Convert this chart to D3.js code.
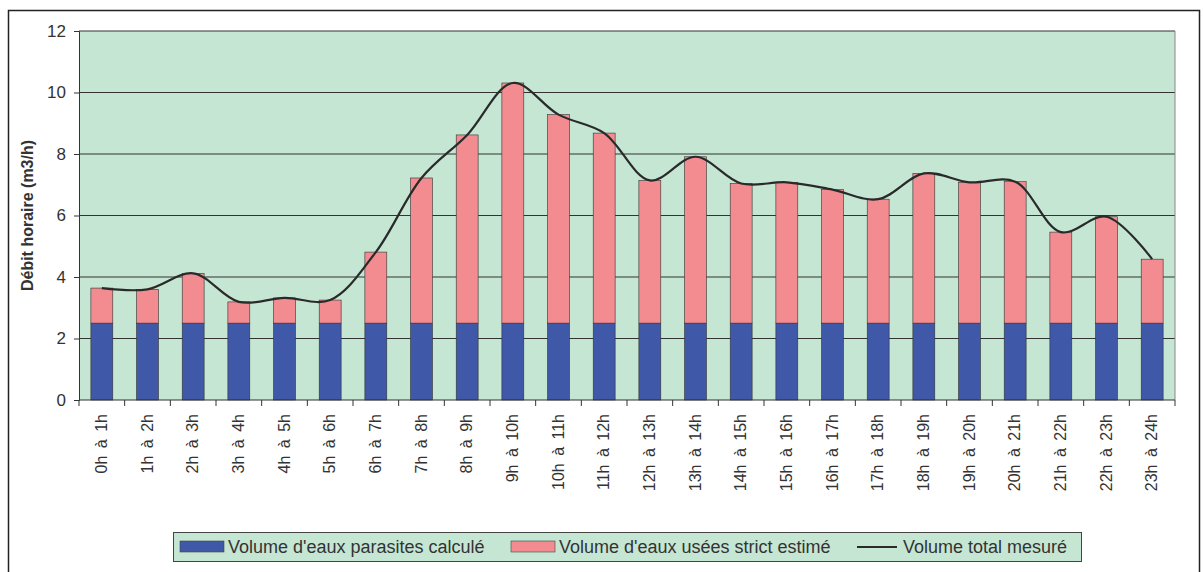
<!DOCTYPE html>
<html>
<head>
<meta charset="utf-8">
<script src="https://cdn.jsdelivr.net/npm/d3@7"></script>
<style>
  body { margin: 0; background: #fff; }
  text { font-family: "Liberation Sans", Arial, sans-serif; fill: #333; }
</style>
</head>
<body>
<script>
// hour slots
var hours = ["0h à 1h","1h à 2h","2h à 3h","3h à 4h","4h à 5h","5h à 6h","6h à 7h","7h à 8h",
  "8h à 9h","9h à 10h","10h à 11h","11h à 12h","12h à 13h","13h à 14h","14h à 15h","15h à 16h",
  "16h à 17h","17h à 18h","18h à 19h","19h à 20h","20h à 21h","21h à 22h","22h à 23h","23h à 24h"];
// parasitic water volume (blue)
var parasites = [2.5,2.5,2.5,2.5,2.5,2.5,2.5,2.5,2.5,2.5,2.5,2.5,2.5,2.5,2.5,2.5,2.5,2.5,2.5,2.5,2.5,2.5,2.5,2.5];
// wastewater volume on top (pink)
var usees = [1.14,1.1,1.62,0.69,0.82,0.75,2.31,4.72,6.12,7.81,6.78,6.18,4.64,5.41,4.54,4.58,4.34,4.03,4.87,4.58,4.6,2.96,3.46,2.08];
// measured total (line)
var total = [3.64,3.6,4.12,3.19,3.32,3.25,4.81,7.22,8.62,10.31,9.28,8.68,7.14,7.91,7.04,7.08,6.84,6.53,7.37,7.08,7.1,5.46,5.96,4.58];
var yTicks = [0,2,4,6,8,10,12];

var W = 1203, H = 572;
var pLeft = 79, pRight = 1175, pTop = 31, pBottom = 400;

var svg = d3.select("body").append("svg")
  .attr("width", W)
  .attr("height", H);

// outer frame
svg.append("rect")
   .attr("x", 8.5).attr("y", 10.5)
   .attr("width", 1191).attr("height", 580)
   .attr("fill", "#fff")
   .attr("stroke", "#222").attr("stroke-width", 1.5);

var x = d3.scaleBand()
  .domain(hours)
  .range([pLeft, pRight])
  .paddingInner(0.52)
  .paddingOuter(0.26);

var y = d3.scaleLinear()
  .domain([0, 12])
  .range([pBottom, pTop]);

// plot background
svg.append("rect")
   .attr("x", pLeft).attr("y", pTop)
   .attr("width", pRight - pLeft).attr("height", pBottom - pTop)
   .attr("fill", "#c5e6d3");

// grid lines
svg.selectAll("line.grid")
   .data(yTicks.filter(d => d > 0))
   .enter().append("line")
     .attr("class", "grid")
     .attr("x1", pLeft).attr("x2", pRight)
     .attr("y1", d => y(d)).attr("y2", d => y(d))
     .style("stroke", "#333")
     .attr("stroke-width", 1);

// right border of plot
svg.append("line")
   .attr("x1", pRight).attr("x2", pRight)
   .attr("y1", pTop).attr("y2", pBottom)
   .style("stroke", "#888");

// stacked bars
svg.selectAll("rect.blue")
   .data(parasites)
   .enter().append("rect")
     .attr("class", "blue")
     .attr("x", (d,i) => x(hours[i]))
     .attr("width", x.bandwidth())
     .attr("y", d => y(d))
     .attr("height", d => y(0) - y(d))
     .attr("fill", "#4058a8")
     .attr("stroke", "#333").attr("stroke-width", 0.6);

svg.selectAll("rect.pink")
   .data(usees)
   .enter().append("rect")
     .attr("class", "pink")
     .attr("x", (d,i) => x(hours[i]))
     .attr("width", x.bandwidth())
     .attr("y", (d,i) => y(parasites[i] + d))
     .attr("height", d => y(0) - y(d))
     .attr("fill", "#f28c90")
     .attr("stroke", "#333").attr("stroke-width", 0.6);

// smoothed total line
var line = d3.line()
  .x((d,i) => x(hours[i]) + x.bandwidth() / 2)
  .y(d => y(d))
  .curve(d3.curveCatmullRom.alpha(0.5));

svg.append("path")
   .datum(total)
   .attr("d", line)
   .attr("fill", "none")
   .style("stroke", "#2a2a2a")
   .attr("stroke-width", 2.2);

// y axis
var yAxis = d3.axisLeft(y).tickValues(yTicks).tickSize(5).tickPadding(8);
var gy = svg.append("g")
  .attr("transform", "translate(" + pLeft + ",0)")
  .call(yAxis);
gy.selectAll("text").attr("font-size", 17).style("fill", "#333")
  .style("font-family", "'Liberation Sans', Arial, sans-serif");
gy.selectAll("line, path").style("stroke", "#333");

// x axis: ticks at band boundaries
var gx = svg.append("g")
  .attr("transform", "translate(0," + pBottom + ")");
gx.append("line")
  .attr("x1", pLeft).attr("x2", pRight)
  .style("stroke", "#333");
var step = x.step();
var bounds = d3.range(hours.length + 1).map(i => x(hours[0]) - x.paddingOuter() * step + i * step);
gx.selectAll("line.tick")
  .data(bounds)
  .enter().append("line")
    .attr("class", "tick")
    .attr("x1", d => d).attr("x2", d => d)
    .attr("y1", 0).attr("y2", 6)
    .style("stroke", "#333");
gx.selectAll("text")
  .data(hours)
  .enter().append("text")
    .attr("transform", d => "translate(" + (x(d) + x.bandwidth() / 2 + 1) + ",14) rotate(-90)")
    .attr("text-anchor", "end")
    .attr("dominant-baseline", "middle")
    .attr("font-size", 16)
    .attr("word-spacing", 3)
    .text(d => d);

// y axis title
svg.append("text")
   .attr("transform", "translate(29," + ((pTop + pBottom) / 2) + ") rotate(-90)")
   .attr("text-anchor", "middle")
   .attr("dominant-baseline", "middle")
   .attr("font-size", 16)
   .attr("font-weight", "bold")
   .text("Débit horaire (m3/h)");

// legend
var lg = svg.append("g");
lg.append("rect")
  .attr("x", 173.5).attr("y", 532.5)
  .attr("width", 908).attr("height", 29)
  .attr("fill", "#c5e6d3")
  .style("stroke", "#444");

var legendItems = [
  {label: "Volume d'eaux parasites calculé", type: "box", color: "#4058a8", x: 180},
  {label: "Volume d'eaux usées strict estimé", type: "box", color: "#f28c90", x: 511},
  {label: "Volume total mesuré", type: "line", color: "#2a2a2a", x: 857}
];
legendItems.forEach(function(d) {
  if (d.type === "box") {
    lg.append("rect")
      .attr("x", d.x).attr("y", 541)
      .attr("width", 44).attr("height", 11)
      .attr("fill", d.color)
      .style("stroke", "#444").attr("stroke-width", 0.6);
  } else {
    lg.append("line")
      .attr("x1", d.x).attr("x2", d.x + 40)
      .attr("y1", 547).attr("y2", 547)
      .style("stroke", d.color).attr("stroke-width", 2);
  }
  lg.append("text")
    .attr("x", d.x + (d.type === "box" ? 48 : 46)).attr("y", 548)
    .attr("dominant-baseline", "middle")
    .attr("font-size", 18)
    .text(d.label);
});
</script>
</body>
</html>
